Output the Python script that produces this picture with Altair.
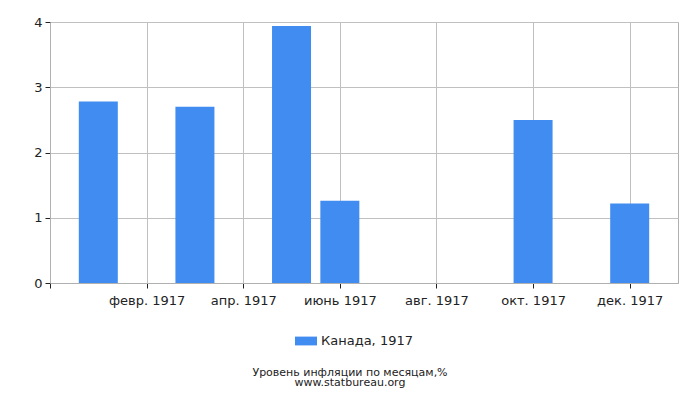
import json
import altair as alt
import pandas as pd

months = [1, 2, 3, 4, 5, 6, 7, 8, 9, 10, 11, 12]
values = [2.78, 0, 2.70, 0, 3.94, 1.26, 0, 0, 0, 2.50, 0, 1.22]
series_name = "Канада, 1917"
tick_values = [0, 2, 4, 6, 8, 10, 12]
tick_labels = ["", "", "февр. 1917", "", "апр. 1917", "", "июнь 1917", "",
               "авг. 1917", "", "окт. 1917", "", "дек. 1917"]
title_lines = ["Уровень инфляции по месяцам,%", "www.statbureau.org"]

df = pd.DataFrame({"month": months, "value": values, "series": series_name})

FONT = "DejaVu Sans"
label_expr = json.dumps(tick_labels, ensure_ascii=False) + "[datum.value]"

chart = alt.Chart(df).mark_bar(size=39).encode(
    x=alt.X("month:Q",
            scale=alt.Scale(domain=[0, 13], nice=False, zero=False, padding=0),
            axis=alt.Axis(values=tick_values, labelExpr=label_expr, title=None,
                          grid=True, gridColor="#c0c0c0", gridWidth=1,
                          domainColor="#b0b0b0", tickColor="#222222", tickSize=5,
                          labelFont=FONT, labelFontSize=13, labelColor="#222222",
                          labelPadding=6, labelFlush=False)),
    y=alt.Y("value:Q",
            scale=alt.Scale(domain=[0, 4], nice=False),
            axis=alt.Axis(values=[0, 1, 2, 3, 4], title=None, format="d",
                          grid=True, gridColor="#c0c0c0", gridWidth=1,
                          domainColor="#b0b0b0", tickColor="#222222", tickSize=5,
                          labelFont=FONT, labelFontSize=13, labelColor="#222222",
                          labelPadding=3)),
    color=alt.Color("series:N",
                    scale=alt.Scale(range=["#418cf0"]),
                    legend=alt.Legend(title=None, orient="none", legendX=245, legendY=308,
                                      symbolType="M-1,-0.4H1V0.4H-1Z", symbolSize=484,
                                      symbolStrokeWidth=0, symbolOpacity=1,
                                      labelFont=FONT, labelFontSize=13,
                                      labelColor="#222222", padding=0)),
).properties(
    width=628,
    height=261,
    autosize=alt.AutoSizeParams(type="none"),
    padding={"left": 42, "top": 14, "right": 14, "bottom": 108},
    title=alt.TitleParams(text=title_lines, orient="bottom", anchor="middle",
                          font=FONT, fontSize=11, fontWeight="normal",
                          color="#222222", dx=-14, offset=19, lineHeight=10),
).configure_view(stroke="#b0b0b0", strokeWidth=1)

chart.save("out.html", embed_options={"renderer": "svg", "actions": False})
